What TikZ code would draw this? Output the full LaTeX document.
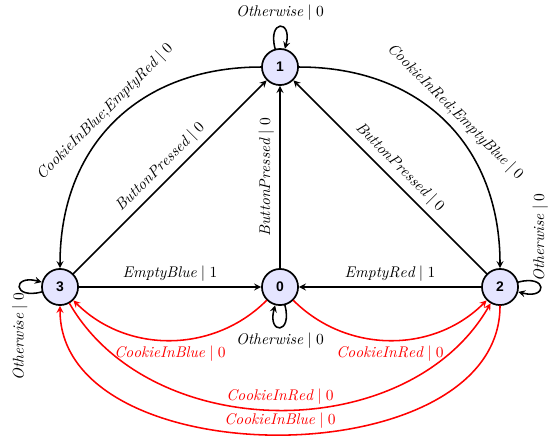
\documentclass[tikz,border=0pt]{standalone}
\usepackage{fontspec}
\newfontfamily\statefont{Liberation Sans}
\usetikzlibrary{arrows}
\begin{document}
\begin{tikzpicture}[scale=1, line join=round, line cap=round, >=stealth,
		stnode/.style={circle, draw, line width=1.1pt, fill=blue!10, minimum size=8.2mm, inner sep=0pt, font=\statefont\bfseries\small},
		tr/.style={->, line width=1pt},
		cookie/.style={->, line width=1pt, red}]
			\def\dd{5}
			\useasboundingbox (-6.364,-3.409) rectangle (6.136,6.523);
			\node[stnode] (s0) at (0,0) {0};
			\node[stnode] (s1) at (0,\dd) {1};
			\node[stnode] (s2) at (\dd,0) {2};
			\node[stnode] (s3) at (-\dd,0) {3};
			% loops
			\draw[tr] (s1) to[loop above] node[above] {$\mathit{Otherwise}\mid 0$} (s1);
			\draw[tr] (s0) to[loop below] node[below] {$\mathit{Otherwise}\mid 0$} (s0);
			\draw[tr] (s3) to[loop left] node[rotate=90, left] {$\mathit{Otherwise}\mid 0$} (s3);
			\draw[tr] (s2) to[loop right] node[rotate=90, right] {$\mathit{Otherwise}\mid 0$} (s2);
			% button
			\draw[tr] (s3) -- node[sloped, above] {$\mathit{ButtonPressed}\mid 0$} (s1);
			\draw[tr] (s0) -- node[sloped, above] {$\mathit{ButtonPressed}\mid 0$} (s1);
			\draw[tr] (s2) -- node[sloped, above] {$\mathit{ButtonPressed}\mid 0$} (s1);
			\draw[tr] (s3) -- node[above] {$\mathit{EmptyBlue}\mid 1$} (s0);
			\draw[tr] (s2) -- node[above] {$\mathit{EmptyRed}\mid 1$} (s0);
			\draw[tr] (s1) to[out=180, in=90, looseness=1.1] node[sloped, above] {$\mathit{CookieInBlue{;}EmptyRed}\mid 0$} (s3);
			\draw[tr] (s1) to[out=0, in=90, looseness=1.1] node[sloped, above] {$\mathit{CookieInRed{;}EmptyBlue}\mid 0$} (s2);
			% cookies
			\draw[cookie] (s0) to[bend left=45] node[below] {$\mathit{CookieInBlue}\mid 0$} (s3);
			\draw[cookie] (s0) to[bend right=45] node[below] {$\mathit{CookieInRed}\mid 0$} (s2);
			\draw[cookie] (s3) to[bend right=60] node[above] {$\mathit{CookieInRed}\mid 0$} (s2);
			\draw[cookie] (s2) to[bend left=90] node[above] {$\mathit{CookieInBlue}\mid 0$} (s3);
		\end{tikzpicture}
\end{document}
